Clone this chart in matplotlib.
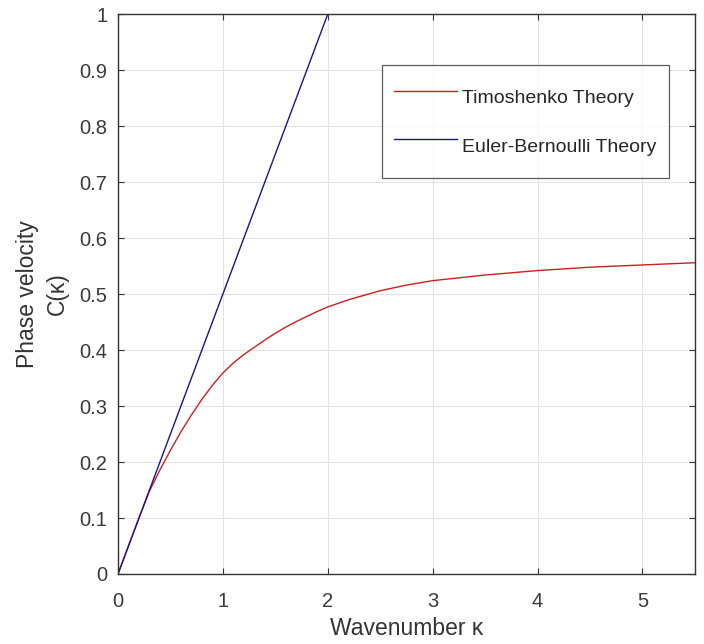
import matplotlib
matplotlib.use("Agg")
import matplotlib.pyplot as plt

plt.rcParams['font.family'] = ['Liberation Sans', 'DejaVu Sans']

# Data
k_timo = [0.0, 0.1, 0.2, 0.3, 0.4, 0.5, 0.6, 0.7, 0.8, 0.9, 1.0, 1.1, 1.2,
          1.3, 1.4, 1.5, 1.6, 1.7, 1.8, 1.9, 2.0, 2.2, 2.5, 2.75, 3.0, 3.5,
          4.0, 4.5, 5.0, 5.5]
c_timo = [0.0, 0.050, 0.100, 0.148, 0.186, 0.221, 0.254, 0.284, 0.312, 0.337,
          0.359, 0.377, 0.392, 0.405, 0.418, 0.430, 0.441, 0.451, 0.460, 0.469,
          0.477, 0.490, 0.506, 0.516, 0.524, 0.534, 0.542, 0.548, 0.552, 0.556]

k_eb = [0.0, 2.0]
c_eb = [0.0, 1.0]

labels = ["Timoshenko Theory", "Euler-Bernoulli Theory"]
xticks = [0, 1, 2, 3, 4, 5]
yticks = [0, 0.1, 0.2, 0.3, 0.4, 0.5, 0.6, 0.7, 0.8, 0.9, 1]
yticklabels = ["0", "0.1", "0.2", "0.3", "0.4", "0.5", "0.6", "0.7", "0.8", "0.9", "1"]

fig = plt.figure(figsize=(7.04, 6.44), dpi=100)
ax = fig.add_axes([0.1676, 0.1087, 0.8194, 0.8693])

ax.plot(k_timo, c_timo, color="#cc1f1f", lw=1.0, label=labels[0])
ax.plot(k_eb, c_eb, color="#16168c", lw=1.0, label=labels[1])

ax.set_xlim(0, 5.5)
ax.set_ylim(0, 1)
ax.set_xticks(xticks)
ax.set_yticks(yticks)
ax.set_yticklabels(yticklabels)

ax.grid(True, color="#e3e3e3", lw=0.8)
ax.set_axisbelow(True)
for s in ax.spines.values():
    s.set_color("#333333")
    s.set_linewidth(1.0)
ax.tick_params(direction="in", length=4, width=0.8, colors="#333333",
               labelcolor="#3a3a3a", labelsize=14.5, top=True, right=True)
ax.tick_params(axis="x", pad=13)
ax.tick_params(axis="y", pad=7.5)

ax.set_xlabel("Wavenumber κ", fontsize=16.5, color="#333333", labelpad=4)
ax.set_ylabel("Phase velocity\nC(κ)", fontsize=16.5, color="#333333",
              labelpad=8, linespacing=1.35)

leg = ax.legend(loc="upper right", bbox_to_anchor=(0.956, 0.909), fontsize=14,
                frameon=True, fancybox=False, edgecolor="#333333",
                handlelength=3.2, handletextpad=0.3, labelspacing=0.45,
                handleheight=2.75, borderpad=0.65, borderaxespad=0)
leg.get_frame().set_linewidth(0.9)
for t in leg.get_texts():
    t.set_color("#262626")

fig.savefig("out.png", dpi=100)
